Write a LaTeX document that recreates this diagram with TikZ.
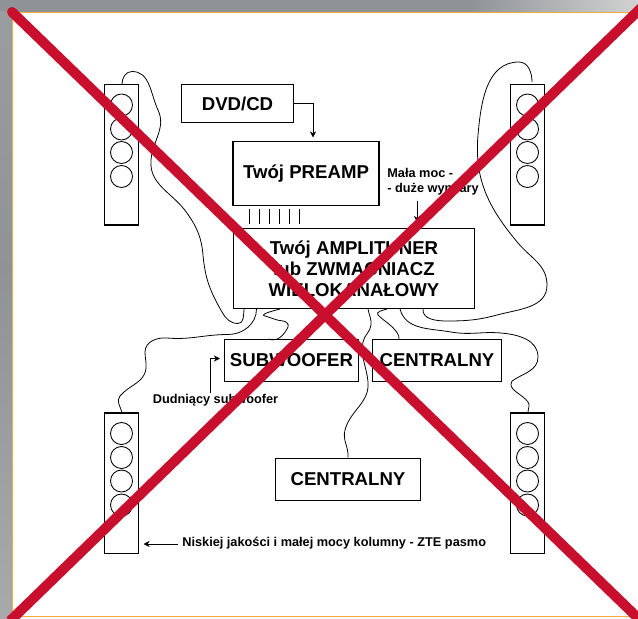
\documentclass[tikz,border=0pt]{standalone}
\usepackage{fontspec}
\setmainfont{Liberation Sans}
\usetikzlibrary{arrows.meta,positioning}
\definecolor{crossred}{HTML}{C8102E}
\definecolor{frameorange}{HTML}{F5AA3C}
\definecolor{framedark}{HTML}{8F9396}
\definecolor{framemid}{HTML}{9A9D9F}
\definecolor{framepale}{HTML}{A8A9AA}
\definecolor{framelight}{HTML}{D2D2D2}
\tikzset{
  unitbox/.style={draw, line width=0.6pt, inner sep=0pt, font=\bfseries\fontsize{10.6}{11.9}\selectfont, align=center},
  speaker/.style={draw, line width=0.6pt, inner sep=0pt, minimum width=0.68cm, minimum height=2.81cm},
  note/.style={inner sep=0pt, font=\bfseries\fontsize{7.25}{8.4}\selectfont, align=left},
  wire/.style={line width=0.45pt},
  feed/.style={line width=0.5pt, -{Stealth[length=3.5pt,width=3.5pt]}}
}

\begin{document}
\begin{tikzpicture}[x=0.02cm, y=-0.02cm]
  \useasboundingbox (0,0) rectangle (638,618);

  % Frame
  \fill[framedark] (0,0) rectangle (470,12);
  \shade[left color=framedark, right color=framelight] (470,0) rectangle (638,12);
  \shade[top color=framemid, bottom color=framedark] (0,12) rectangle (12,270);
  \shade[top color=framedark, bottom color=framepale] (0,270) rectangle (12,618);
  \fill[white] (12,12) rectangle (638,616);
  \draw[frameorange, line width=0.6pt] (638,12.5) -- (12.5,12.5) -- (12.5,616.5) -- (638,616.5);

  % Boxes
  \node[unitbox, minimum width=2.24cm, minimum height=0.77cm] (dvd) at (237.5,103.5) {DVD/CD};
  \node[unitbox, minimum width=2.92cm, minimum height=1.27cm] (preamp) at (306,173.5) {Twój PREAMP};
  \node[unitbox, minimum width=4.82cm, minimum height=1.60cm] (amp) at (354,268.5) {Twój AMPLITUNER\\lub ZWMACNIACZ\\WIELOKANAŁOWY};
  \node[unitbox, minimum width=2.68cm, minimum height=0.84cm] (sub) at (291.5,360.5) {SUBWOOFER};
  \node[unitbox, minimum width=2.58cm, minimum height=0.84cm] (centera) at (437,360.5) {CENTRALNY};
  \node[unitbox, minimum width=2.90cm, minimum height=0.85cm] (centerb) at (348,479.5) {CENTRALNY};

  % Speakers
  \foreach \spk/\cx/\top in {spktl/121.5/84.5, spktr/527.5/84.5, spkbl/121.5/413, spkbr/527.5/413} {
    \node[speaker] (\spk) at (\cx,\top+70.25) {};
    \foreach \dy in {20.5,44.5,68,92} {
      \draw[line width=0.5pt] (\cx,\top+\dy) circle (11);
    }
  }

  % Ribbon between preamp and amp
  \foreach \x in {249.3,259.2,269.1,279,289,299} {
    \draw[line width=0.5pt] (\x,209) -- (\x,224);
  }

  % Notes
  \node[note, anchor=west] (small) at (387,181.5) {Mała moc -\\- duże wymiary};
  \node[note, anchor=west] (rumble) at (152.5,400) {Dudniący subwoofer};
  \node[note, anchor=west] (poor) at (182,543) {Niskiej jakości i małej mocy kolumny - ZTE pasmo};

  % Arrows
  \draw[feed] (dvd.east) -- (313,103.5) -- (313,137.5);
  \draw[feed] (417,201) -- (417,222);
  \draw[feed] (210.5,392.5) -- (210.5,358.5) -- (220,358.5);
  \draw[feed] (poor.west) ++(-4,1) -- (143.5,544);

  % Wires
  \draw[wire] (122,0 |- spktl.north) to[out=90, in=180] (132,71.5) to[out=0, in=115] (158,110)
    to[out=-65, in=85] (151,160) to[out=-95, in=125] (187,213) to[out=-55, in=95] (203,255)
    to[out=-85, in=120] (222,312) to[out=-60, in=180] (238,323.5) to[out=0, in=-95] (244,0 |- amp.south);
  \draw[wire] (256.5,0 |- amp.south) to[out=-90, in=0] (228,334.5) to[out=180, in=-5] (167,338)
    to[out=175, in=90] (145,352) to[out=-90, in=85] (146,368) to[out=-95, in=50] (120,396)
    to[out=-130, in=105] (122,0 |- spkbl.north);
  \draw[wire] (280,0 |- amp.south) to[out=195, in=165] (265,316) to[out=-15, in=175] (283,321)
    to[out=-5, in=65] (288,327) to[out=-115, in=-25] (269,0 |- sub.north);
  \draw[wire] (368,0 |- amp.south) to[out=-80, in=85] (371,325) to[out=-95, in=80] (363,342)
    to[out=-100, in=95] (368,382) to[out=-85, in=75] (345,430) to[out=-105, in=85] (348,0 |- centerb.north);
  \draw[wire] (387,0 |- amp.south) to[out=195, in=135] (378,315) to[out=-45, in=130] (395,330)
    to[out=-50, in=90] (399,0 |- centera.north);
  \draw[wire] (400,0 |- amp.south) to[out=-75, in=170] (451,332) to[out=-10, in=175] (501,333)
    to[out=-5, in=90] (538,357) to[out=-90, in=35] (512,381) to[out=-120, in=125] (528,402)
    to[out=-55, in=90] (528,0 |- spkbr.north);
  \draw[wire] (532,82) to[out=90, in=0] (519,62) to[out=180, in=85] (478,135) to[out=-95, in=130] (518,243)
    to[out=-50, in=90] (547,285) to[out=-90, in=15] (497,315) to[out=-165, in=0] (447,321)
    to[out=180, in=-95] (423,0 |- amp.south);

  % Cross
  \draw[crossred, line width=5.7pt, line cap=round] (12,12) -- (326,316);
  \draw[crossred, line width=5.7pt] (326,316) -- (640,620);
  \draw[crossred, line width=5.7pt] (10,621) -- (641,8);
\end{tikzpicture}
\end{document}
